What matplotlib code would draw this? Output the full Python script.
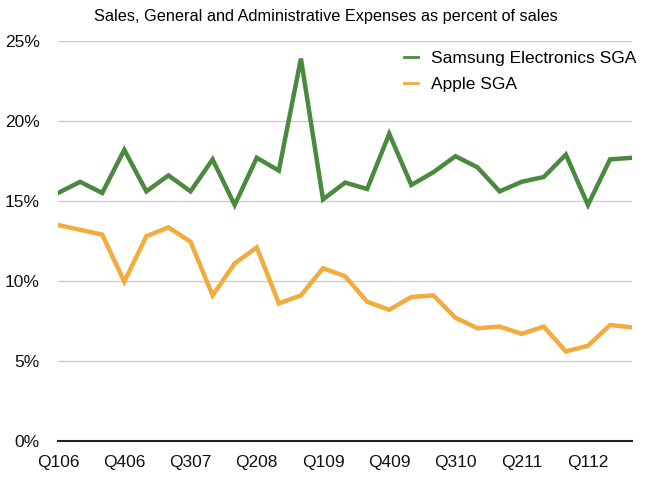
import matplotlib
matplotlib.use("Agg")
import matplotlib.pyplot as plt

# ---- data (% of sales) ----
quarters = ["Q106", "Q206", "Q306", "Q406", "Q107", "Q207", "Q307", "Q407",
            "Q108", "Q208", "Q308", "Q408", "Q109", "Q209", "Q309", "Q409",
            "Q110", "Q210", "Q310", "Q410", "Q111", "Q211", "Q311", "Q411",
            "Q112", "Q212", "Q312"]
samsung_sga = [15.5, 16.2, 15.5, 18.2, 15.6, 16.6, 15.6, 17.6, 14.75, 17.7,
               16.9, 23.9, 15.1, 16.15, 15.75, 19.2, 16.0, 16.8, 17.8, 17.1,
               15.6, 16.2, 16.5, 17.9, 14.75, 17.6, 17.7]
apple_sga = [13.5, 13.2, 12.9, 9.96, 12.8, 13.35, 12.45, 9.1, 11.1, 12.1,
             8.6, 9.1, 10.8, 10.3, 8.7, 8.2, 9.0, 9.1, 7.7, 7.05,
             7.15, 6.7, 7.15, 5.6, 5.95, 7.25, 7.1]
y_ticks = [0, 5, 10, 15, 20, 25]

plt.rcParams['font.family'] = ['Liberation Sans', 'DejaVu Sans']

fig = plt.figure(figsize=(6.45, 4.82), dpi=100)
ax = fig.add_axes([0.09, 0.085, 0.89, 0.83])

x = list(range(len(quarters)))
ax.plot(x, samsung_sga, color="#4a8a3f", lw=3.2, label="Samsung Electronics SGA",
        solid_joinstyle="miter")
ax.plot(x, apple_sga, color="#f2ab3c", lw=3.2, label="Apple SGA",
        solid_joinstyle="miter")

ax.set_xlim(0, len(quarters) - 1)
ax.set_ylim(0, 25)
ax.set_xticks(x[::3])
ax.set_xticklabels(quarters[::3])
ax.set_yticks(y_ticks)
ax.set_yticklabels([f"{v}%" for v in y_ticks])
ax.tick_params(axis="both", length=0, labelsize=12.5, colors="#111111")
ax.tick_params(axis="y", pad=13)
ax.tick_params(axis="x", pad=10)

ax.grid(axis="y", color="#cccccc", lw=1)
ax.set_axisbelow(True)
for s in ["top", "right", "left"]:
    ax.spines[s].set_visible(False)
ax.spines["bottom"].set_color("#222222")
ax.spines["bottom"].set_linewidth(1.5)

fig.text(0.505, 0.965, "Sales, General and Administrative Expenses as percent of sales",
         ha="center", va="center", fontsize=11.7)

leg = ax.legend(loc="upper right", bbox_to_anchor=(1.035, 1.015), frameon=False,
                fontsize=12.5, handlelength=0.8, handletextpad=0.75,
                labelspacing=0.65)
for l in leg.get_lines():
    l.set_linewidth(2)

fig.savefig("out.png", dpi=100)
